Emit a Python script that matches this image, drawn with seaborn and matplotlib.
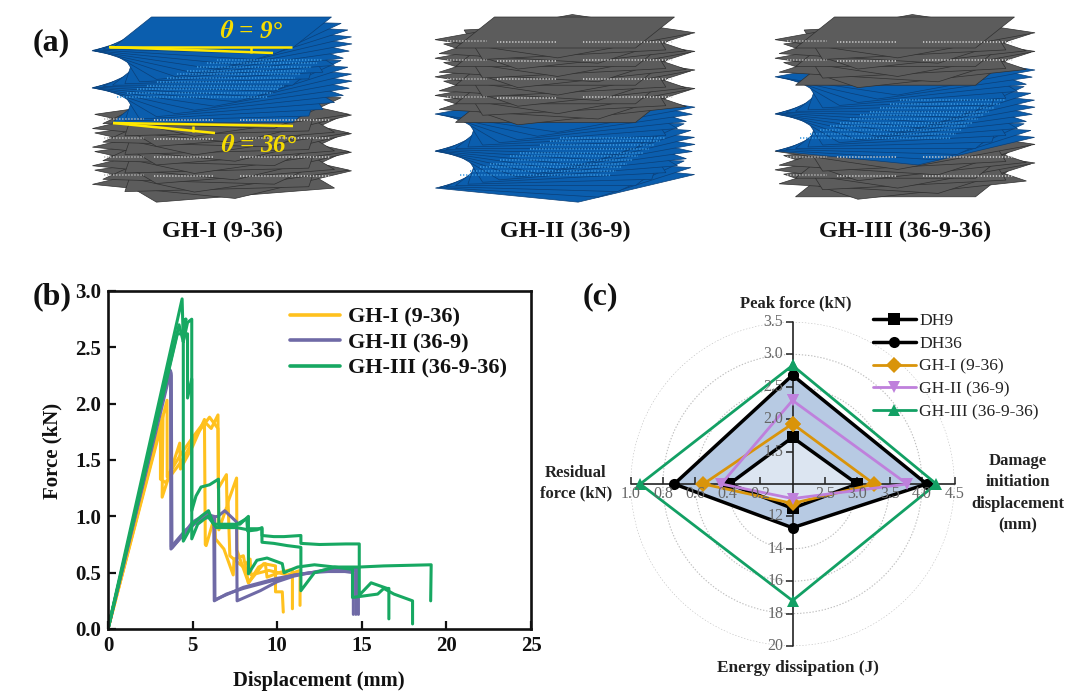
import numpy as np
import pandas as pd
import matplotlib
matplotlib.use("Agg")
import matplotlib.pyplot as plt
import matplotlib.markers as mmarkers
from matplotlib.patches import Polygon
import seaborn as sns

sns.set_theme(style="white")
plt.rcParams['font.family'] = ['Liberation Serif', 'DejaVu Serif']
plt.rcParams['mathtext.fontset'] = 'stix'

W, H = 1080, 693

# ---------- panel (b) force-displacement curves ----------
GH1_A_X = [0, 3.25, 3.2, 4.24, 4.28, 5.0, 5.7, 5.75, 5.8, 6.3, 6.35, 6.85, 7.4, 7.45, 8.0, 8.3, 9.2, 9.9, 9.9, 10.3, 10.36]
GH1_A_Y = [0, 1.90, 1.17, 1.65, 1.42, 1.62, 1.86, 0.75, 0.74, 1.0, 0.8, 0.71, 0.48, 0.62, 0.65, 0.41, 0.58, 0.56, 0.33, 0.33, 0.15]
GH1_B_X = [0, 3.49, 3.5, 4.3, 5.0, 5.7, 6.1, 6.5, 6.52, 7.0, 7.03, 7.6, 7.62, 8.3, 8.9, 9.3, 9.4, 10.1, 10.9, 10.9]
GH1_B_Y = [0, 2.03, 1.35, 1.55, 1.70, 1.84, 1.78, 1.90, 1.25, 1.37, 1.10, 1.34, 0.70, 0.41, 0.55, 0.58, 0.46, 0.50, 0.53, 0.18]
GH1_C_X = [0, 3.1, 3.1, 3.4, 4.4, 5.2, 6.0, 6.5, 6.55, 7.1, 7.2, 8.0, 8.4, 8.45, 9.5, 10.6, 11.35, 11.35]
GH1_C_Y = [0, 1.78, 1.33, 1.30, 1.50, 1.72, 1.88, 1.78, 0.88, 1.12, 0.65, 0.55, 0.62, 0.48, 0.52, 0.48, 0.52, 0.21]

GH2_A_X = [0, 3.70, 3.74, 3.78, 4.5, 5.0, 5.8, 6.25, 6.28, 7.0, 8.0, 9.0, 10.0, 11.0, 12.0, 13.0, 14.0, 14.5, 14.5]
GH2_A_Y = [0, 2.29, 2.25, 0.72, 0.85, 0.95, 1.02, 1.0, 0.25, 0.31, 0.36, 0.40, 0.44, 0.48, 0.50, 0.51, 0.51, 0.50, 0.13]
GH2_B_X = [0, 3.66, 3.72, 3.74, 4.6, 5.5, 6.5, 6.9, 7.6, 7.63, 9.0, 10.0, 11.0, 12.0, 13.0, 14.0, 14.8, 14.8]
GH2_B_Y = [0, 2.30, 2.27, 0.73, 0.88, 0.98, 1.00, 1.05, 0.95, 0.25, 0.34, 0.42, 0.47, 0.50, 0.53, 0.53, 0.54, 0.13]
GH2_C_X = [0, 3.62, 3.7, 3.72, 4.6, 5.3, 6.0, 6.3, 6.32, 8.0, 10.0, 11.5, 13.0, 14.65, 14.65]
GH2_C_Y = [0, 2.28, 2.24, 0.71, 0.86, 0.96, 1.0, 0.98, 0.26, 0.37, 0.45, 0.49, 0.52, 0.52, 0.13]

GH3_A_X = [0, 4.38, 4.45, 4.6, 4.45, 4.45, 5.0, 5.5, 5.94, 6.24, 7.8, 8.3, 8.3, 9.1, 9.1, 9.8, 10.4, 11.4, 11.4, 12.5, 14.06, 14.85, 14.85, 15.55, 16.5, 16.6, 16.6]
GH3_A_Y = [0, 2.93, 2.55, 2.75, 2.55, 0.78, 0.93, 1.0, 1.05, 0.93, 0.93, 1.0, 0.89, 0.89, 0.83, 0.82, 0.82, 0.83, 0.76, 0.75, 0.755, 0.755, 0.30, 0.41, 0.36, 0.36, 0.09]
GH3_B_X = [0, 4.2, 4.45, 4.7, 4.95, 4.95, 5.2, 5.5, 6.0, 6.53, 6.55, 7.5, 8.2, 8.25, 8.8, 9.1, 9.1, 9.8, 10.6, 11.4, 11.4, 12.2, 13.4, 14.45, 14.45, 15.94, 16.3, 16.9, 18.0, 18.0]
GH3_B_Y = [0, 2.70, 2.55, 2.72, 2.75, 1.05, 1.18, 1.26, 1.28, 1.33, 0.92, 0.92, 0.98, 0.87, 0.88, 0.90, 0.77, 0.76, 0.74, 0.725, 0.34, 0.50, 0.55, 0.53, 0.28, 0.31, 0.36, 0.31, 0.25, 0.045]
GH3_C_X = [0, 4.1, 4.7, 4.7, 4.95, 4.95, 5.3, 5.9, 6.4, 7.6, 8.3, 8.3, 8.8, 9.4, 10.3, 10.4, 11.2, 12.2, 13.4, 14.85, 16.3, 19.1, 19.07]
GH3_C_Y = [0, 2.62, 2.62, 2.05, 2.22, 0.80, 0.93, 1.0, 0.90, 0.90, 0.88, 0.49, 0.61, 0.63, 0.58, 0.50, 0.55, 0.57, 0.55, 0.55, 0.56, 0.57, 0.25]

GROUP_NAMES = ["GH-I (9-36)", "GH-II (36-9)", "GH-III (36-9-36)"]
GROUP_COLORS = ["#FFC11E", "#6F6AA6", "#17A862"]
X_TICKS = [0, 5, 10, 15, 20, 25]
Y_TICKS = [0.0, 0.5, 1.0, 1.5, 2.0, 2.5, 3.0]

# ---------- panel (c) radar ----------
RADAR_AXES = ["Peak force", "Damage displacement", "Energy dissipation", "Residual force"]
RADAR_ANGLES_DEG = [0, 90, 180, 270]
RADAR_ORIGIN = [1.0, 2.0, 10.0, 0.0]
RADAR_MAX = [3.5, 4.5, 20.0, 1.0]
RADAR_TICKS_PEAK = ["1.5", "2.0", "2.5", "3.0", "3.5"]
RADAR_TICKS_DISP = ["2.5", "3.0", "3.5", "4.0", "4.5"]
RADAR_TICKS_ENERGY = ["12", "14", "16", "18", "20"]
RADAR_TICKS_RES = ["0.2", "0.4", "0.6", "0.8", "1.0"]
DH9 = [1.72, 3.00, 11.5, 0.39]
DH36 = [2.68, 4.07, 12.7, 0.73]
GH1 = [1.93, 3.26, 11.2, 0.55]
GH2 = [2.29, 3.77, 10.9, 0.44]
GH3 = [2.83, 4.22, 17.2, 0.94]
RADAR_NAMES = ["DH9", "DH36", "GH-I (9-36)", "GH-II (36-9)", "GH-III (36-9-36)"]
RADAR_COLORS = ["#000000", "#000000", "#D9940A", "#BF80DC", "#12A064"]
RADAR_MARKERS = ["s", "o", "D", "v", "^"]

# ---------- panel (a) sheet stacks: (layer count, twist step in degrees, colour family) ----------
STACK_CENTERS_X = [222, 565, 905]
STACK_LABELS = ["GH-I (9-36)", "GH-II (36-9)", "GH-III (36-9-36)"]
STACK_1 = [(21, 9, "b"), (20, 36, "g")]
STACK_2 = [(21, 36, "g"), (20, 9, "b")]
STACK_3 = [(11, 36, "g"), (20, 9, "b"), (10, 36, "g")]

fig = plt.figure(figsize=(W / 100, H / 100), dpi=100, facecolor="white")


def rect(l, t, r, b):
    return [l / W, 1 - b / H, (r - l) / W, (b - t) / H]


px = fig.add_axes([0, 0, 1, 1], zorder=5)
px.set_xlim(0, W)
px.set_ylim(H, 0)
px.axis("off")
px.patch.set_alpha(0)


def sheet(cx, cy, phi):
    c, s = np.cos(np.radians(phi)), np.sin(np.radians(phi))
    pts = []
    for a, b in [(-1, -1), (1, -1), (1, 1), (-1, 1)]:
        ra, rb = a * c - b * s, a * s + b * c
        pts.append((cx + ra * 90 + rb * 19.5, cy - rb * 15.5))
    return np.array(pts)


def dotted(x0, x1, y, col, z):
    px.plot([x0, x1], [y, y], color=col, lw=1.15, ls=(0, (0.8, 1.1)), zorder=z)


def draw_stack(cx, spec, top=32.5, dz=3.72):
    phi, y = 0, top
    layers = []
    for b_i, (n, step, fam) in enumerate(spec):
        for k in range(n):
            layers.append((y, phi, fam, k))
            y += dz
            phi -= step
    for i, (yy, ph, fam, k) in enumerate(reversed(layers)):
        p = sheet(cx, yy, ph)
        face, edge = ("#0B5EAE", "#0A3F78") if fam == "b" else ("#5C5C5C", "#303030")
        px.add_patch(Polygon(p, closed=True, fc=face, ec=edge, lw=0.5, zorder=2 + i * 0.01))
        if k == 0:
            continue
        if fam == "b" and 7 <= k <= 17:
            t = (k - 7) / 10
            dotted(cx - 105 + (1 - t) * 100, cx + 100 - t * 55, yy + 1, "#3C9BE2", 3.5)
        elif fam == "g" and k % 5 == 2:
            dotted(cx - 68, cx - 8, yy + 2, "#D0D0D0", 3.5)
        elif fam == "g" and k % 5 == 3:
            dotted(cx + 18, cx + 108, yy - 2, "#D0D0D0", 3.5)
        elif fam == "g" and k % 5 == 4:
            dotted(cx - 118, cx - 78, yy - 6, "#B8B8B8", 3.5)


for cx, spec in zip(STACK_CENTERS_X, [STACK_1, STACK_2, STACK_3]):
    draw_stack(cx, spec)
for cx, lab in zip(STACK_CENTERS_X, STACK_LABELS):
    px.text(cx, 231, lab, ha="center", va="center", fontsize=17.3, fontweight="bold", color="#111111")

YEL = "#FFE800"
for xs, ys in [([109, 292], [47, 47]), ([109, 273], [47, 53]), ([251, 251], [47, 53]),
               ([113, 293], [123, 126]), ([113, 215], [123, 133]), ([193, 193], [126, 132])]:
    px.plot(xs, ys, color=YEL, lw=1.8, zorder=4, solid_capstyle="butt")
px.text(252, 31, r"$\mathbfit{\theta}$ = 9°", color="#F5DC00", fontsize=18, fontstyle="italic",
        fontweight="bold", ha="center", va="center", zorder=4)
px.text(259, 145, r"$\mathbfit{\theta}$ = 36°", color="#F5DC00", fontsize=18, fontstyle="italic",
        fontweight="bold", ha="center", va="center", zorder=4)
for t, x, y in [("(a)", 51, 43), ("(b)", 52, 297), ("(c)", 600, 297)]:
    px.text(x, y, t, fontsize=23, fontweight="bold", ha="center", va="center", color="#111111")

# ---- panel (b)
frames = []
for name, runs in zip(GROUP_NAMES, [
    [(GH1_A_X, GH1_A_Y), (GH1_B_X, GH1_B_Y), (GH1_C_X, GH1_C_Y)],
    [(GH2_A_X, GH2_A_Y), (GH2_B_X, GH2_B_Y), (GH2_C_X, GH2_C_Y)],
    [(GH3_A_X, GH3_A_Y), (GH3_B_X, GH3_B_Y), (GH3_C_X, GH3_C_Y)],
]):
    for r, (xs, ys) in enumerate(runs):
        frames.append(pd.DataFrame({"x": xs, "y": ys, "group": name, "run": f"{name}-{r}"}))
curves = pd.concat(frames, ignore_index=True)

ax = fig.add_axes(rect(108, 291, 531, 629))
sns.lineplot(data=curves, x="x", y="y", hue="group", units="run", estimator=None, sort=False,
             palette=dict(zip(GROUP_NAMES, GROUP_COLORS)), hue_order=GROUP_NAMES, lw=2.2, ax=ax)
ax.set_xlim(0, 25)
ax.set_ylim(0, 3)
ax.set_xticks(X_TICKS)
ax.set_yticks(Y_TICKS)
ax.set_yticklabels([f"{v:.1f}" for v in Y_TICKS])
ax.tick_params(direction="in", length=6, width=1.6, color="#111111", labelsize=15, pad=5,
               bottom=True, left=True, labelcolor="#111111")
for lab in ax.get_xticklabels() + ax.get_yticklabels():
    lab.set_fontweight("bold")
for s in ax.spines.values():
    s.set_visible(True)
    s.set_linewidth(1.9)
    s.set_color("#111111")
ax.set_xlabel("")
ax.set_ylabel("")
px.text(319, 681, "Displacement (mm)", ha="center", va="center", fontsize=14.8, fontweight="bold", color="#111111")
px.text(52, 451, "Force (kN)", ha="center", va="center", rotation=90, fontsize=15, fontweight="bold", color="#111111")
leg = ax.legend(loc="upper left", bbox_to_anchor=((290 - 108) / 423, 1 - (307 - 291) / 338), frameon=False,
                prop={"size": 16, "weight": "bold"}, handlelength=2.27, handletextpad=0.32,
                labelspacing=0.23, borderpad=0, borderaxespad=0)
for line in leg.get_lines():
    line.set_linewidth(2.6)
for t in leg.get_texts():
    t.set_color("#111111")

# ---- panel (c)
CX, CY, R = 792.5, 484, 162
pol = fig.add_axes(rect(CX - R, CY - R, CX + R, CY + R), projection="polar")
pol.set_theta_zero_location("N")
pol.set_theta_direction(-1)
pol.set_ylim(0, 1)
pol.set_rgrids([0.2, 0.4, 0.6, 0.8, 1.0], labels=[])
pol.set_thetagrids([], labels=[])
pol.grid(True, color="#BDBDBD", lw=0.8, ls=(0, (1.2, 1.6)))
pol.spines["polar"].set_visible(False)
pol.patch.set_alpha(0)

theta = np.radians(RADAR_ANGLES_DEG)
origin = np.array(RADAR_ORIGIN)
span = np.array(RADAR_MAX) - origin

rows = []
for name, vals in zip(RADAR_NAMES, [DH9, DH36, GH1, GH2, GH3]):
    r = (np.array(vals) - origin) / span
    for t, rv in zip(list(theta) + [theta[0]], list(r) + [r[0]]):
        rows.append({"theta": t, "r": rv, "series": name})
radar = pd.DataFrame(rows)

r36 = (np.array(DH36) - origin) / span
r9 = (np.array(DH9) - origin) / span
pol.fill(theta, r36, color="#B7CAE3", zorder=1.0, lw=0)
pol.fill(theta, r9, color="#DCE5F1", zorder=1.1, lw=0)

for th, mk in zip(theta, [mmarkers.TICKLEFT, mmarkers.TICKUP, mmarkers.TICKLEFT, mmarkers.TICKUP]):
    pol.plot([th, th], [0, 1], color="#222222", lw=1.2, zorder=1.5, clip_on=False)
    pol.plot([th] * 5, [0.2, 0.4, 0.6, 0.8, 1.0], ls="none", marker=mk, ms=5, mew=1.1, color="#222222",
             zorder=1.5, clip_on=False)

sns.lineplot(data=radar, x="theta", y="r", hue="series", style="series", hue_order=RADAR_NAMES,
             style_order=RADAR_NAMES, palette=dict(zip(RADAR_NAMES, RADAR_COLORS)),
             markers=dict(zip(RADAR_NAMES, RADAR_MARKERS)), dashes=False, units=None, estimator=None,
             sort=False, lw=2.0, markersize=8, markeredgewidth=0, ax=pol, zorder=3, clip_on=False)
for ln in pol.get_lines():
    if ln.get_marker() in ("s", "o"):
        ln.set_linewidth(2.5)
pol.set_xlabel("")
pol.set_ylabel("")
leg2 = pol.legend(loc="upper left", bbox_to_anchor=(873 / W, 1 - 313 / H), bbox_transform=fig.transFigure,
                  frameon=False, prop={"size": 12.6}, handlelength=2.45, handletextpad=0.2, labelspacing=0.37,
                  borderpad=0, borderaxespad=0)
for t in leg2.get_texts():
    t.set_color("#222222")

TL = "#666666"
for i in range(5):
    f = (i + 1) / 5
    px.text(CX - 9, CY - f * R, RADAR_TICKS_PEAK[i], ha="right", va="center", fontsize=11.5, color=TL, zorder=0)
    px.text(CX - 9, CY + f * R, RADAR_TICKS_ENERGY[i], ha="right", va="center", fontsize=11.5, color=TL, zorder=0)
    px.text(CX + f * R, CY + 10, RADAR_TICKS_DISP[i], ha="center", va="center", fontsize=11.5, color=TL, zorder=0)
    px.text(CX - f * R, CY + 10, RADAR_TICKS_RES[i], ha="center", va="center", fontsize=11.5, color=TL, zorder=0)

BL = "#222222"
px.text(796, 303, "Peak force (kN)", ha="center", va="center", fontsize=12, fontweight="bold", color=BL)
px.text(798, 668, "Energy dissipation (J)", ha="center", va="center", fontsize=12.4, fontweight="bold", color=BL)
px.text(576, 483, "Residual\nforce (kN)", ha="center", va="center", fontsize=12, fontweight="bold", color=BL,
        linespacing=1.35)
px.text(1018, 493, "Damage\ninitiation\ndisplacement\n(mm)", ha="center", va="center", fontsize=12,
        fontweight="bold", color=BL, linespacing=1.45)

fig.savefig("out.png", dpi=100)
